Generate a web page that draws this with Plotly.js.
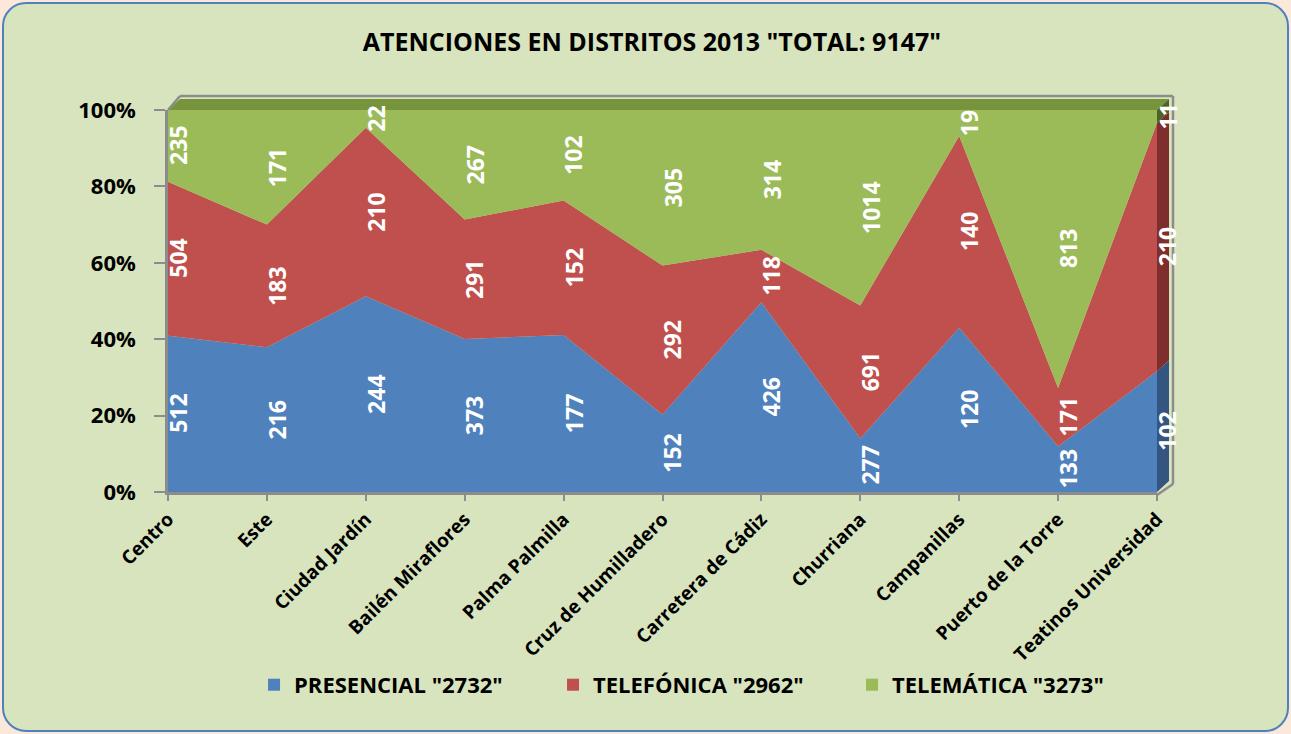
<!DOCTYPE html>
<html>
<head>
<meta charset="utf-8">
<script src="https://cdn.plot.ly/plotly-3.0.1.min.js"></script>
<style>
  html, body { margin:0; padding:0; width:1291px; height:734px; background:#FCE8DA; overflow:hidden; }
  #frame { position:absolute; left:2px; top:2px; width:1283px; height:726px; border:2.5px solid #4F81BD; border-radius:24px; background:#D7E4BD; }
  #chart { position:absolute; left:0; top:0; width:1291px; height:734px; }
</style>
</head>
<body>
<div id="frame"></div>
<div id="chart"></div>
<script>
// ---- data ----
const categories = ['Centro','Este','Ciudad Jardín','Bailén Miraflores','Palma Palmilla','Cruz de Humilladero','Carretera de Cádiz','Churriana','Campanillas','Puerto de la Torre','Teatinos Universidad'];
const presencial = [512,216,244,373,177,152,426,277,120,133,102];
const telefonica = [504,183,210,291,152,292,118,691,140,171,210];
const telematica = [235,171,22,267,102,305,314,1014,19,813,11];
const seriesNames = ['PRESENCIAL "2732"','TELEFÓNICA "2962"','TELEMÁTICA "3273"'];
const yTickVals = [0,20,40,60,80,100];
const yTickText = ['0%','20%','40%','60%','80%','100%'];
const chartTitle = 'ATENCIONES EN DISTRITOS 2013 "TOTAL: 9147"';

// ---- style ----
const colors = ['#4F81BD','#C0504D','#9BBB59'];
const sideColors = ['#34557F','#7E2F2D','#4F6228'];
const FONT = 'Open Sans, Noto Sans, sans-serif';
const L = 168, R = 134, T = 110, B = 242, W = 1291 - L - R, H = 734 - T - B;
const DX = 12 / W, DY = 11 / H;

const series = [presencial, telefonica, telematica];
const traces = series.map((s, j) => ({
  type: 'scatter', x: categories, y: s, stackgroup: 'one', groupnorm: 'percent',
  mode: 'none', fillcolor: colors[j], line: {width: 0}, showlegend: false, hoverinfo: 'skip'
}));
// legend swatches
series.forEach((s, j) => traces.push({
  type: 'bar', x: [categories[0]], y: [null], name: seriesNames[j], marker: {color: colors[j]}, showlegend: true
}));

// annotations: value labels in the middle of each band
const annotations = [];
const cumTeatinos = [];
categories.forEach((c, i) => {
  const tot = presencial[i] + telefonica[i] + telematica[i];
  let lower = 0;
  series.forEach((s, j) => {
    const pct = s[i] / tot * 100;
    annotations.push({
      x: c, y: lower + pct / 2, xref: 'x', yref: 'y', text: String(s[i]), showarrow: false,
      textangle: -90, xshift: 10,
      font: {family: FONT, size: 23, color: '#FFFFFF', weight: 'bold'}
    });
    if (i === categories.length - 1) cumTeatinos.push([lower / 100, (lower + pct) / 100]);
    lower += pct;
  });
});

// 3D decorations
const shapes = [];
shapes.push({type: 'path', xref: 'paper', yref: 'paper', layer: 'above',
  path: `M 0,1 L 1,1 L ${1 + DX},${1 + DY} L ${DX},${1 + DY} Z`, fillcolor: '#77933C', line: {width: 0}});
cumTeatinos.forEach((b, j) => {
  shapes.push({type: 'path', xref: 'paper', yref: 'paper', layer: 'above',
    path: `M 1,${b[0]} L ${1 + DX},${b[0] + DY} L ${1 + DX},${b[1] + DY} L 1,${b[1]} Z`,
    fillcolor: sideColors[j], line: {width: 0}});
});
const grey = '#8C8C8C';
const bx = 1 + DX + 4 / W, by = 1 + DY + 3 / H;
shapes.push({type: 'line', xref: 'paper', yref: 'paper', x0: DX, y0: by, x1: bx, y1: by, line: {color: grey, width: 2.5}});
shapes.push({type: 'line', xref: 'paper', yref: 'paper', x0: bx, y0: by, x1: bx, y1: DY - 3 / H, line: {color: grey, width: 2.5}});
shapes.push({type: 'line', xref: 'paper', yref: 'paper', x0: 1, y0: -3 / H, x1: bx, y1: DY - 3 / H, line: {color: grey, width: 2.5}});
shapes.push({type: 'line', xref: 'paper', yref: 'paper', x0: 0, y0: 1, x1: DX, y1: by, line: {color: grey, width: 2.5}});

const layout = {
  width: 1291, height: 734,
  paper_bgcolor: 'rgba(0,0,0,0)', plot_bgcolor: 'rgba(0,0,0,0)',
  margin: {l: L, r: R, t: T, b: B},
  title: {text: chartTitle, x: 0.505, xanchor: 'center', y: 0.943, yanchor: 'middle',
          font: {family: FONT, size: 25, color: '#000000', weight: 'bold'}},
  xaxis: {type: 'category', range: [0, categories.length - 1], showgrid: false, zeroline: false,
          showline: true, linecolor: grey, linewidth: 2.5, ticks: 'outside', ticklen: 6, tickcolor: grey, tickwidth: 2,
          tickangle: -45, tickfont: {family: FONT, size: 19, color: '#000000', weight: 'bold'}},
  yaxis: {range: [0, 100], tickvals: yTickVals, ticktext: yTickText, showgrid: false, zeroline: false,
          showline: true, linecolor: grey, linewidth: 2.5, ticks: 'outside', ticklen: 11, tickcolor: grey, tickwidth: 2,
          ticklabelstandoff: 14,
          tickfont: {family: FONT, size: 22, color: '#000000', weight: 'bold'}},
  showlegend: true,
  legend: {orientation: 'h', traceorder: 'normal', x: 0.087, xanchor: 'left', y: -0.505, yanchor: 'middle',
           entrywidth: 254, bgcolor: 'rgba(0,0,0,0)',
           font: {family: FONT, size: 22, color: '#000000', weight: 'bold'}},
  annotations: annotations,
  shapes: shapes,
  barmode: 'overlay'
};

Plotly.newPlot('chart', traces, layout, {displayModeBar: false, responsive: false});
</script>
</body>
</html>
